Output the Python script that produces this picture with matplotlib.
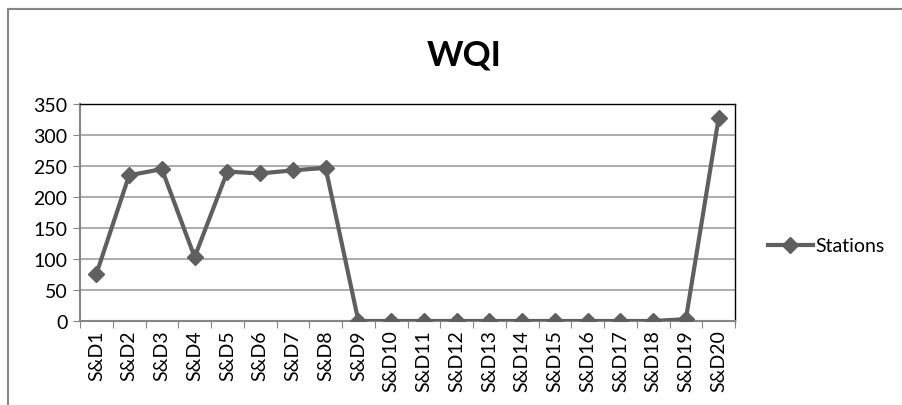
import matplotlib
matplotlib.use("Agg")
import matplotlib.pyplot as plt
from matplotlib.lines import Line2D

stations = ["S&D1", "S&D2", "S&D3", "S&D4", "S&D5", "S&D6", "S&D7", "S&D8", "S&D9", "S&D10",
            "S&D11", "S&D12", "S&D13", "S&D14", "S&D15", "S&D16", "S&D17", "S&D18", "S&D19", "S&D20"]
wqi = [76, 235, 245, 103, 241, 238, 243, 247, 0, 0, 0, 0, 0, 0, 0, 0, 0, 0, 3, 327]
yticks = [0, 50, 100, 150, 200, 250, 300, 350]

plt.rcParams['font.family'] = ['Lato', 'DejaVu Sans']

fig = plt.figure(figsize=(9.03, 4.06), dpi=100)
ax = fig.add_axes([80/903, 1-322/406, (735-80)/903, (322-105)/406])

x = list(range(len(stations)))
line, = ax.plot(x, wqi, color='#5f5f5f', linewidth=3, marker='D', markersize=8,
                markerfacecolor='#5f5f5f', markeredgecolor='#5f5f5f', label='Stations', zorder=3)

ax.set_xlim(-0.5, len(stations) - 0.5)
ax.set_ylim(0, 350)
ax.set_yticks(yticks)
ax.set_yticklabels([str(v) for v in yticks], fontsize=14)
ax.set_xticks([i - 0.5 for i in range(len(stations) + 1)])
ax.set_xticklabels([])
ax.set_xticks(x, minor=True)
ax.set_xticklabels(stations, minor=True, rotation=90, fontsize=14)
ax.tick_params(axis='x', which='minor', length=0, pad=6)
ax.tick_params(axis='x', which='major', length=5, color='#868686', direction='out')
ax.tick_params(axis='y', length=5, color='#868686', direction='out', pad=4)

ax.grid(axis='y', color='#a6a6a6', linewidth=1.3)
ax.set_axisbelow(True)
for s in ['left', 'bottom']:
    ax.spines[s].set_color('#868686')
    ax.spines[s].set_linewidth(1.5)
for s in ['top', 'right']:
    ax.spines[s].set_color('#000000')
    ax.spines[s].set_linewidth(1.0)

fig.text(464/903, 1-55/406, 'WQI', ha='center', va='center', fontsize=25, fontweight='bold')

fig.legend(handles=[line], loc='center left', bbox_to_anchor=(768/903, 1-247/406),
           frameon=False, fontsize=14, handlelength=2.3, handletextpad=0.15, borderpad=0,
           borderaxespad=0)

# outer chart border
fig.add_artist(Line2D([8/903, 8/903], [0, 1-10/406], transform=fig.transFigure,
                      color='#868686', linewidth=1.5))
fig.add_artist(Line2D([8/903, 1], [1-10/406, 1-10/406], transform=fig.transFigure,
                      color='#868686', linewidth=1.5))

fig.savefig('out.png', dpi=100)
